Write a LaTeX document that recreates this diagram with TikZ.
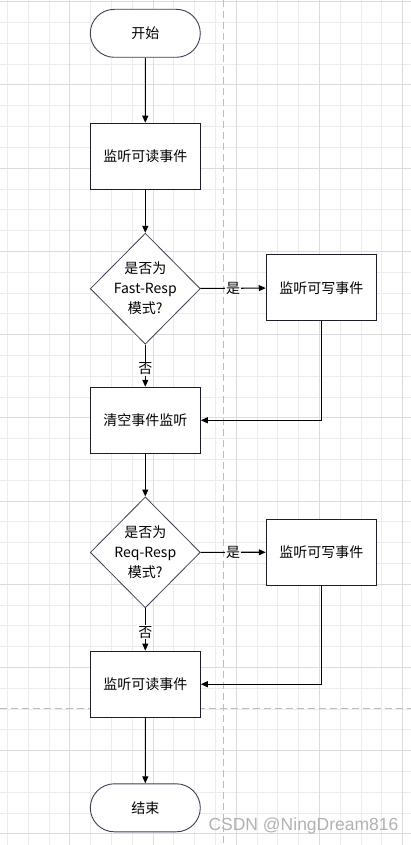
\documentclass[tikz,border=0pt]{standalone}
\usepackage{fontspec}
\setmainfont{Noto Sans CJK SC}
\newfontfamily\markfont{Liberation Sans}
\usetikzlibrary{shapes.geometric,shapes.misc,arrows.meta}

\definecolor{gridcol}{HTML}{ECECEC}
\definecolor{gridmajor}{HTML}{DCDCDC}
\definecolor{dashcol}{HTML}{BDBDBD}
\definecolor{edgecol}{HTML}{1E1E2A}
\definecolor{termcol}{HTML}{3C3F55}

\tikzset{
  terminal/.style={rounded rectangle, draw=termcol, line width=0.9pt, fill=white,
    minimum width=110, minimum height=48, inner sep=0pt},
  stepbox/.style={rectangle, draw=edgecol, line width=1.1pt, fill=white,
    minimum width=110, minimum height=66, inner sep=0pt},
  decision/.style={diamond, draw=termcol, line width=0.8pt, fill=white,
    minimum width=110, minimum height=111, inner sep=0pt},
  flow/.style={draw=black, line width=1.1pt, -{Triangle[length=7pt,width=6pt]}},
  choice/.style={fill=white, inner sep=1pt}
}

\begin{document}
\begin{tikzpicture}[x=1pt, y=-1pt, font=\fontsize{14}{20}\selectfont]
\useasboundingbox (0,0) rectangle (411,845);
\fill[white] (0,0) rectangle (411,845);
% grid
\foreach \i in {0,...,19}
  \draw[gridcol, line width=0.8pt] ({7.3+\i*20.8},0) -- ++(0,845);
\foreach \i in {0,...,40}
  \draw[gridcol, line width=0.8pt] (0,{1.7+\i*20.8}) -- ++(411,0);
\foreach \i in {3,7,11,15,19}
  \draw[gridmajor, line width=0.8pt] ({7.3+\i*20.8},0) -- ++(0,845);
\foreach \i in {0,4,...,40}
  \draw[gridmajor, line width=0.8pt] (0,{1.7+\i*20.8}) -- ++(411,0);
\draw[dashcol, line width=0.9pt, dash pattern=on 7pt off 4pt] (223.3,0) -- (223.3,845);
\draw[dashcol, line width=0.9pt, dash pattern=on 7pt off 4pt] (0,708.9) -- (411,708.9);

% nodes
\node[terminal] (start) at (145.3,33.3) {开始};
\node[stepbox] (read1) at (145.3,156.3) {监听可读事件};
\node[decision, label={[align=center]center:是否为\\Fast-Resp\\模式?}] (fast) at (145.3,288.7) {};
\node[stepbox] (write1) at (321.3,287.8) {监听可写事件};
\node[stepbox] (clear) at (145.3,420.3) {清空事件监听};
\node[decision, label={[align=center]center:是否为\\Req-Resp\\模式?}] (req) at (145.3,552.4) {};
\node[stepbox] (write2) at (321.3,552.2) {监听可写事件};
\node[stepbox] (read2) at (145.3,684.2) {监听可读事件};
\node[terminal] (stop) at (145.3,807.8) {结束};
\node[text=gray!60, font=\markfont\fontsize{17.5}{20}\selectfont] (mark) at (303.5,825.7) {CSDN @NingDream816};

% connectors
\draw[flow] (start) -- (read1);
\draw[flow] (read1) -- (fast);
\draw[flow] (fast) -- node[choice] {是} (write1);
\draw[flow] (fast) -- node[choice, pos=0.57] {否} (clear);
\draw[flow] (write1.south) |- (clear.east);
\draw[flow] (clear) -- (req);
\draw[flow] (req) -- node[choice] {是} (write2);
\draw[flow] (req) -- node[choice, pos=0.57] {否} (read2);
\draw[flow] (write2.south) |- (read2.east);
\draw[flow] (read2) -- (stop);
\end{tikzpicture}
\end{document}
